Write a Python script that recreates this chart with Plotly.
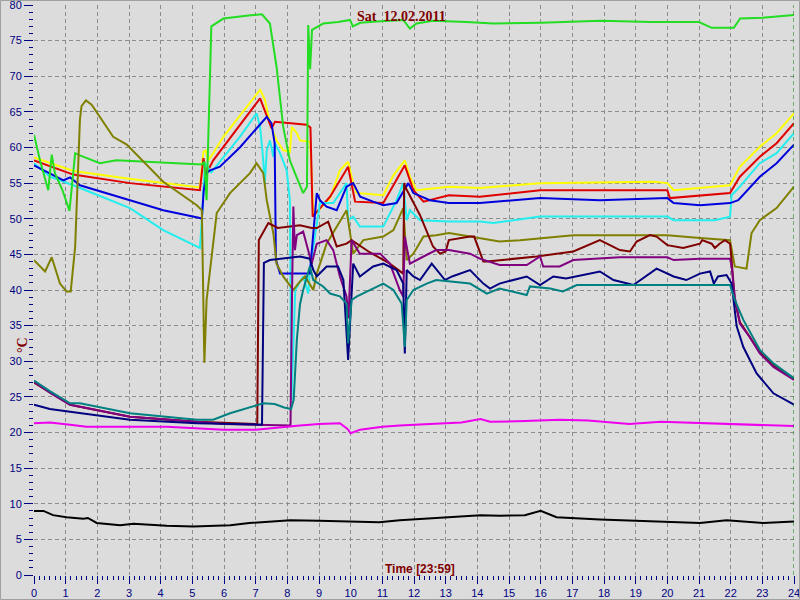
import plotly.graph_objects as go

# ---------------- data (hours, °C) ----------------
green_h = [0, 0.2, 0.45, 0.56, 0.66, 0.9, 1.12, 1.3, 1.45, 2.08, 2.6, 3.5, 4.08, 5.3, 5.38, 5.45, 5.6, 5.98, 6.7, 7.2, 7.45, 7.66, 7.87, 8.08, 8.24, 8.5, 8.62, 8.66, 8.72, 8.78, 9.13, 9.6, 9.98, 10.07, 10.3, 10.82, 11.66, 11.87, 12.08, 12.6, 13.66, 14.5, 16, 17.9, 19.5, 21.0, 21.4, 22.1, 22.3, 23, 24]
green_v = [61.8, 58, 54.0, 59, 56.4, 54, 51.1, 59.2, 58.9, 57.8, 58.2, 58, 57.9, 57.6, 58, 52.6, 77, 78.1, 78.5, 78.7, 77.4, 71.3, 62.9, 58.2, 56.4, 53.6, 54.5, 77.2, 71, 76.5, 77.4, 77.6, 77.9, 77.0, 77.5, 77.7, 77.9, 76.7, 77.4, 77.8, 77.6, 77.4, 77.5, 77.8, 77.6, 77.6, 76.8, 76.8, 78.1, 78.2, 78.6]

olive_h = [0, 0.35, 0.56, 0.82, 1.03, 1.16, 1.3, 1.45, 1.5, 1.64, 1.82, 2.14, 2.5, 2.93, 3.35, 4.08, 5.14, 5.3, 5.38, 5.45, 5.77, 6.19, 6.82, 7.03, 7.24, 7.35, 7.56, 7.66, 7.87, 8.19, 8.4, 8.56, 8.82, 8.93, 9.24, 9.87, 10.08, 10.4, 11.03, 11.35, 11.66, 11.77, 11.98, 12.3, 12.7, 13.1, 13.77, 14.7, 15.35, 17.03, 18.5, 20, 21.03, 21.98, 22.13, 22.5, 22.66, 22.92, 23.45, 24]
olive_v = [44.2, 42.6, 44.6, 40.9, 39.8, 39.8, 46.1, 63.9, 65.8, 66.6, 66, 63.9, 61.5, 60.4, 58.5, 55.2, 51.9, 51.2, 29.8, 38.6, 50.8, 53.6, 56.4, 57.8, 56.4, 52.6, 47.9, 43.7, 41.9, 40, 41.2, 41.9, 40, 42.3, 46.5, 51.2, 45.1, 47, 47.5, 48.4, 51.5, 44.2, 45.1, 47.5, 47.7, 48, 47.5, 46.8, 47, 47.7, 47.7, 47.7, 47.3, 47, 43.3, 43, 48, 49.8, 51.5, 54.5]

yellow_h = [0, 1.24, 3, 5.24, 5.35, 5.42, 5.5, 5.66, 5.98, 7.14, 7.29, 7.45, 7.66, 7.87, 8.08, 8.14, 8.3, 8.4, 8.72, 8.77, 8.82, 9.03, 9.35, 9.66, 9.92, 10.08, 10.19, 11.03, 11.35, 11.71, 11.87, 12.08, 13.1, 14.08, 15.98, 19.56, 20.0, 20.2, 21.03, 21.98, 22.29, 22.92, 23.45, 24]
yellow_v = [58.6, 56.7, 55.6, 54.4, 59.4, 59.6, 58.2, 59.2, 61.5, 68.1, 66.7, 63.4, 61, 59.6, 59.4, 62.9, 62, 61, 60.8, 55, 50.6, 51.4, 52.9, 56.8, 58, 55, 53.6, 53.3, 56.1, 58.2, 55.9, 54, 54.5, 54.3, 55, 55.2, 55, 54, 54.3, 54.7, 57.3, 60.1, 62, 64.8]

red_h = [0, 1.24, 3.03, 5.24, 5.35, 5.45, 5.66, 7.14, 7.5, 7.61, 8.61, 8.73, 8.8, 9.35, 9.92, 10.14, 11.03, 11.71, 11.98, 12.3, 13.1, 14.08, 15.98, 20.0, 20.08, 21.03, 21.98, 22.29, 22.92, 23.45, 24]
red_v = [58.2, 56.2, 55, 54, 58.5, 56.4, 58.2, 66.9, 62.7, 63.6, 63.2, 62.8, 50.3, 53.1, 57.3, 52.4, 52.2, 57.5, 54, 52.4, 53.3, 53.1, 54, 54, 52.9, 53.3, 53.6, 55.9, 58.7, 60.6, 63.4]

cyan_h = [0, 0.5, 1.24, 3.03, 4.08, 5.24, 5.3, 5.4, 5.6, 6.5, 7.03, 7.14, 7.22, 7.29, 7.35, 7.45, 7.56, 7.61, 7.77, 7.98, 8.08, 8.13, 8.25, 8.5, 8.66, 8.71, 9.03, 9.45, 9.66, 9.87, 9.92, 10.08, 10.29, 11.03, 11.45, 11.66, 11.77, 11.87, 12.19, 13.1, 14.08, 14.5, 15.98, 20.0, 20.2, 21.03, 21.5, 21.98, 22.03, 22.29, 22.92, 23.45, 24]
cyan_v = [57.8, 55.9, 54.7, 51.5, 48.4, 45.9, 49.8, 57.8, 56.5, 61.5, 64.8, 62.9, 59.2, 55, 59.6, 61, 58.7, 60.6, 59.2, 56.8, 52.6, 24.5, 40, 41.9, 39.5, 42.8, 52.2, 52.2, 53.6, 55, 49.8, 50.3, 48.9, 48.9, 52.6, 55, 49.8, 51.2, 49.8, 49.6, 49.6, 49.4, 50.3, 50.3, 49.8, 49.8, 49.8, 50.3, 53.3, 54.5, 57.8, 59.2, 62]

blue_h = [0, 0.5, 0.93, 1.14, 1.45, 3.03, 4.08, 5.24, 5.3, 5.36, 5.45, 5.56, 5.87, 6.5, 7.35, 7.5, 7.6, 7.64, 7.77, 8.71, 8.82, 8.93, 9.03, 9.24, 9.56, 9.87, 10.08, 10.3, 10.71, 11.03, 11.45, 11.82, 11.98, 12.5, 13.1, 14.08, 15.98, 17.87, 20.0, 20.2, 21.03, 21.98, 22.24, 22.92, 23.45, 24]
blue_v = [57.5, 56.4, 55.4, 55.8, 54.7, 52.6, 51.2, 50.1, 50, 54, 56.4, 56.8, 57.3, 60, 64.3, 63.4, 60.6, 44.2, 42.3, 42.3, 48, 53.6, 52.6, 51.7, 51.2, 54.5, 55, 53.1, 52.4, 51.9, 52.2, 55, 53.6, 52.6, 52.2, 52.2, 52.9, 52.6, 52.9, 52.2, 51.9, 52.2, 52.6, 55.9, 57.8, 60.4]

maroon_h = [0, 1.14, 3.03, 5.14, 7.0, 7.05, 7.1, 7.4, 7.7, 8.08, 8.4, 8.77, 8.93, 9.29, 9.56, 9.87, 10.03, 10.6, 11.2, 11.66, 11.69, 11.72, 12.19, 12.6, 12.82, 13.0, 13.1, 13.77, 13.9, 14.19, 14.3, 15.87, 17.03, 17.87, 18.5, 18.82, 19.03, 19.45, 19.66, 20.0, 20.5, 21.03, 21.1, 21.4, 21.5, 21.65, 21.82, 21.98, 22.03, 22.13, 22.29, 22.92, 23.35, 24]
maroon_v = [27.0, 23.9, 22.2, 21.5, 21.2, 21.2, 47, 49.4, 48.7, 48.9, 49.1, 48.7, 48.7, 49.6, 46.1, 46.5, 47, 45.3, 43.8, 42.3, 55, 54.5, 50.5, 46.1, 45.1, 45.4, 47, 47.5, 47.5, 44, 44, 44.7, 45.4, 47, 45.6, 45.4, 46.8, 47.7, 47.5, 46.3, 45.9, 46.5, 47, 46.5, 45.9, 46.5, 47, 46.5, 44.2, 38.5, 35.5, 31.3, 29.4, 27.5]

purple_h = [0, 0.5, 1.14, 3.03, 5.14, 6, 7, 8.0, 8.1, 8.15, 8.19, 8.24, 8.3, 8.5, 8.66, 8.77, 8.93, 9.24, 9.45, 9.66, 9.87, 9.93, 10.03, 10.29, 10.93, 11.24, 11.55, 11.66, 11.71, 11.87, 12.3, 12.7, 13.1, 13.77, 14.08, 14.7, 15.56, 15.98, 16.08, 16.6, 17.03, 18.5, 20, 20.2, 21.03, 21.98, 22.03, 22.13, 22.29, 22.6, 22.92, 23.35, 24]
purple_v = [27.1, 25.6, 23.9, 22.2, 21.5, 21.2, 21.1, 21.0, 21.0, 40, 51.7, 45.6, 47.7, 48.2, 45.6, 43.7, 46.5, 47, 45.6, 41.9, 39.1, 36, 47, 45.1, 45.1, 43.7, 40, 39.1, 47.5, 43.7, 44.7, 45.6, 45.6, 45.1, 44.4, 43.5, 43.5, 44.7, 43.3, 43.3, 44.2, 44.6, 44.6, 44.2, 44.4, 44.4, 43.3, 39, 35.3, 33.4, 31.1, 29.2, 27.4]

navy_h = [0, 0.5, 1.14, 3.03, 5.14, 7.03, 7.2, 7.26, 7.45, 8.4, 8.71, 8.82, 8.93, 9.24, 9.6, 9.77, 9.92, 10.08, 10.29, 10.71, 11.03, 11.45, 11.66, 11.71, 11.77, 11.98, 12.19, 12.56, 12.98, 13.2, 13.77, 14.19, 14.4, 14.7, 15.56, 15.98, 16.4, 16.8, 17.87, 18.3, 18.93, 19.66, 20.2, 20.6, 21.03, 21.35, 21.47, 21.6, 21.87, 22.03, 22.19, 22.4, 22.82, 23.35, 24]
navy_v = [23.9, 23.3, 22.9, 21.8, 21.3, 21.1, 21.1, 43.8, 44.2, 44.7, 44.4, 42.8, 41.9, 43.3, 43.3, 41.4, 30.2, 43.7, 41.9, 43.3, 43.7, 42.8, 40.9, 31.1, 42.8, 41.9, 41.4, 43.7, 41.4, 41.9, 42.8, 40.9, 40.2, 40.9, 41.9, 40.7, 41.9, 41.6, 42.6, 41.4, 40.7, 43, 41.9, 41.4, 42.3, 42.6, 40.9, 41.9, 42.1, 40.9, 34.9, 32, 28.3, 25.5, 23.9]

teal_h = [0, 0.5, 1.14, 1.45, 3.03, 4.29, 5.14, 5.66, 6.19, 7.24, 7.6, 7.9, 8.12, 8.2, 8.3, 8.4, 8.5, 8.71, 8.82, 9.13, 9.35, 9.66, 9.87, 9.92, 10.03, 10.2, 10.82, 11.03, 11.35, 11.61, 11.71, 11.77, 11.98, 12.4, 12.7, 13.1, 13.77, 14.3, 14.7, 15.56, 15.66, 16.3, 16.7, 17.14, 20, 21.98, 22.13, 22.4, 22.92, 23.35, 24]
teal_v = [27.3, 25.8, 24.1, 24.1, 22.7, 22.2, 21.8, 21.8, 22.7, 24.1, 24.0, 23.5, 23.3, 24.6, 33, 38, 40, 43.3, 41.4, 40.5, 39.5, 39.1, 38.1, 32.5, 38.6, 39.1, 40.5, 40.9, 40, 38.1, 32, 38.6, 40, 40.9, 41.4, 41.2, 40.9, 39.5, 40.2, 39.3, 40.5, 40.2, 39.8, 40.7, 40.7, 40.7, 38.6, 35.8, 31.6, 29.7, 27.6]

magenta_h = [0, 0.5, 1.14, 1.66, 3, 4.2, 5.98, 7, 8.4, 9.0, 9.66, 9.9, 10.0, 10.3, 11.0, 11.55, 12.5, 13.5, 14.1, 14.4, 15.5, 16.6, 17.5, 18.8, 19.8, 21, 22, 23, 24]
magenta_v = [21.3, 21.4, 21.1, 20.8, 20.8, 20.8, 20.4, 20.4, 21.0, 21.2, 21.3, 20.5, 19.9, 20.4, 20.8, 21.0, 21.2, 21.4, 21.9, 21.5, 21.6, 21.8, 21.7, 21.2, 21.5, 21.3, 21.2, 21.0, 20.9]

black_h = [0, 0.3, 0.6, 1.03, 1.56, 1.7, 1.98, 2.72, 3.14, 4.19, 5.03, 6.2, 6.8, 8.1, 9.0, 10.9, 11.55, 12.8, 13.8, 14.1, 14.7, 15.5, 16.0, 16.5, 17.87, 20, 21.03, 21.87, 23.03, 24]
black_v = [9, 9, 8.4, 8.1, 7.9, 8.0, 7.3, 7.0, 7.2, 6.9, 6.8, 7.0, 7.3, 7.7, 7.6, 7.4, 7.7, 8.0, 8.3, 8.4, 8.3, 8.4, 9.0, 8.1, 7.8, 7.4, 7.3, 7.7, 7.3, 7.5]

x_ticks = list(range(0, 25))
y_ticks = list(range(0, 81, 5))

series = [
    (yellow_h, yellow_v, "#ffff00"),
    (red_h, red_v, "#e00000"),
    (cyan_h, cyan_v, "#22eeee"),
    (blue_h, blue_v, "#0000dd"),
    (green_h, green_v, "#22dd22"),
    (olive_h, olive_v, "#808000"),
    (maroon_h, maroon_v, "#800000"),
    (purple_h, purple_v, "#800080"),
    (navy_h, navy_v, "#000080"),
    (teal_h, teal_v, "#008080"),
    (magenta_h, magenta_v, "#ee00ee"),
    (black_h, black_v, "#000000"),
]

BG = "#dcdcdc"
TICK = "#000080"

fig = go.Figure()
for hx, vy, col in series:
    fig.add_trace(go.Scatter(x=hx, y=vy, mode="lines",
                             line=dict(color=col, width=2),
                             showlegend=False, hoverinfo="skip"))

fig.add_shape(type="line", xref="x", yref="y", x0=24, x1=24, y0=0, y1=80,
              line=dict(color="#008000", width=1, dash="4px,3px"))
# outer frame
fig.add_shape(type="rect", xref="paper", yref="paper",
              x0=-33.5/760, x1=765.5/760, y0=-24.5/570, y1=574.5/570,
              line=dict(color="#a0a0a0", width=1))

fig.add_annotation(text="<b>Sat  12.02.2011</b>", xref="paper", yref="paper",
                   x=(401-34)/760, y=(575-17)/570, showarrow=False,
                   xanchor="center", yanchor="middle",
                   font=dict(family="Liberation Serif", size=14, color="#800000"))
fig.add_annotation(text="<b>Time [23:59]</b>", xref="paper", yref="paper",
                   x=(420-34)/760, y=(575-569)/570, showarrow=False,
                   xanchor="center", yanchor="middle",
                   font=dict(family="Liberation Sans", size=12, color="#800000"))
fig.add_annotation(text="<b>°C</b>", xref="paper", yref="paper",
                   x=(22-34)/760, y=(575-345)/570, showarrow=False, textangle=-90,
                   xanchor="center", yanchor="middle",
                   font=dict(family="Liberation Serif", size=14, color="#800000"))

grid_dash = "4px,3px"
fig.update_layout(
    width=800, height=600,
    margin=dict(l=34, r=6, t=5, b=25, pad=0, autoexpand=False),
    paper_bgcolor=BG, plot_bgcolor=BG,
    xaxis=dict(range=[0, 24], tickmode="array", tickvals=x_ticks,
               ticktext=[str(t) for t in x_ticks], automargin=False,
               ticklabeloverflow="allow",
               ticks="outside", ticklen=8, tickcolor=TICK, tickwidth=1,
               tickfont=dict(family="Liberation Sans", size=11, color=TICK),
               showgrid=True, gridcolor="#8c8c8c", griddash=grid_dash, gridwidth=1,
               zeroline=False, showline=False,
               minor=dict(dtick=1/6, tick0=0, ticks="outside", ticklen=4,
                          tickcolor=TICK, showgrid=False)),
    yaxis=dict(range=[0, 80], tickmode="array", tickvals=y_ticks,
               ticktext=[str(t) for t in y_ticks], automargin=False,
               ticklabeloverflow="allow",
               ticks="outside", ticklen=9, tickcolor=TICK, tickwidth=1,
               tickfont=dict(family="Liberation Sans", size=11, color=TICK),
               showgrid=True, gridcolor="#8c8c8c", griddash=grid_dash, gridwidth=1,
               zeroline=False, showline=False,
               minor=dict(dtick=1, tick0=0, ticks="outside", ticklen=4,
                          tickcolor=TICK, showgrid=False)),
)

fig.write_html("out.html", config={"displayModeBar": False},
               post_script="document.body.style.margin='0';document.body.style.padding='0';")
